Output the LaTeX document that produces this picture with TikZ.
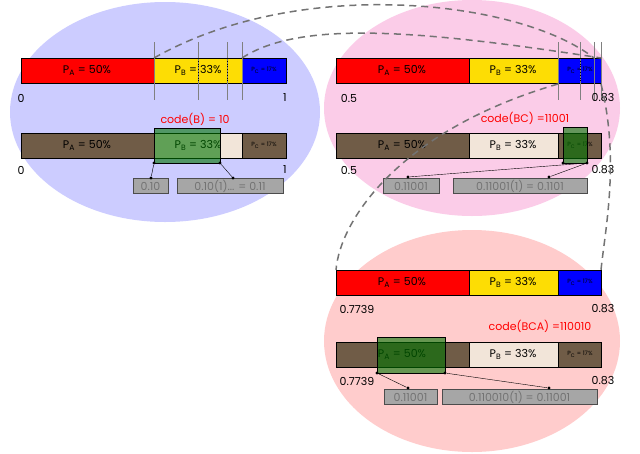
\documentclass[tikz,border=0pt]{standalone}
\usepackage{fontspec}
\setmainfont{Poppins}
\begin{document}
\begin{tikzpicture}[x=1pt,y=-1pt,
  seg/.style={draw=black,line width=0.8pt,inner sep=0pt,anchor=north west},
  lab/.style={font=\fontsize{11}{12}\selectfont},
  small/.style={font=\fontsize{6}{7}\selectfont},
  num/.style={font=\fontsize{11}{12}\selectfont},
  code/.style={font=\fontsize{11}{12}\selectfont,text=red},
  nbox/.style={draw=black!70,line width=1pt,fill=gray!70,text=black!55,inner sep=1pt,minimum height=15pt,font=\fontsize{11}{12}\selectfont},
  grn/.style={draw=black,fill=green!45!black,fill opacity=0.6,line width=0.8pt},
  conn/.style={draw=black,line width=0.4pt},
  dot/.style={circle,fill=black,inner sep=1.2pt},
  link/.style={dashed,line width=1.5pt,draw=black!55,dash pattern=on 7pt off 5pt},
  tick/.style={draw=black!50,line width=0.6pt}]
\useasboundingbox (0,0) rectangle (640,453);
\fill[white] (0,0) rectangle (640,453);
% ellipses
\fill[blue!20] (165,112) ellipse [x radius=155,y radius=110];
\fill[magenta!20] (472,108) ellipse [x radius=148,y radius=108];
\fill[red!20] (472,341) ellipse [x radius=148,y radius=111];

% generic macro for a row
\newcommand{\barrow}[8]{% #1 y, #2 c1, #3 c2, #4 c3, #5 ta, #6 tb, #7 tc
  \fill[#2] (336,#1) rectangle (469,#1+25);}

% ----- panel 1 -----
\foreach \yy/\ca/\cb/\cc/\tc/\nm in {58/red/yellow!80!orange/blue/black/t1,133/brown!40!black!80/brown!20!white/brown!40!black!80/black/b1}{
  \path[fill=\ca,draw=black,line width=0.8pt] (21,\yy) rectangle (154,\yy+25);
  \path[fill=\cb,draw=black,line width=0.8pt] (154,\yy) rectangle (242,\yy+25);
  \path[fill=\cc,draw=black,line width=0.8pt] (242,\yy) rectangle (286,\yy+25);
  \node[lab] at (87,\yy+12.5) {P\textsubscript{A} = 50\%};
  \node[lab] at (198,\yy+12.5) {P\textsubscript{B} = 33\%};
  \node[small] at (264,\yy+12.5) {P\textsubscript{C} = 17\%};
}
\foreach \xx in {154,198,227,242} \draw[tick] (\xx,42) -- (\xx,100);
\draw[dotted,thick] (198,58) -- (198,83) (227,58) -- (227,83);
\node[num] at (21,98) {0};
\node[num] at (285,98) {1};
\node[num] at (21,170) {0};
\node[num] at (285,170) {1};
\node[code] at (195,119) {code(B) = 10};
\draw[grn] (154,128) rectangle (220,163);
\node[nbox,minimum width=35pt] (n1) at (150.5,186) {0.10};
\node[nbox,minimum width=106pt] (n2) at (230,186) {0.10(1)... = 0.11};
\node[dot] (d1) at (154,163) {}; \node[dot] (d2) at (220,163) {};
\node[dot] (e1) at (151,178) {}; \node[dot] (e2) at (233,178) {};
\draw[conn] (d1) -- (e1) (d2) -- (e2);

% ----- panel 2 and 3 -----
\foreach \yy in {58,270}{
  \path[fill=red,draw=black,line width=0.8pt] (336,\yy) rectangle (469,\yy+25);
  \path[fill=yellow!80!orange,draw=black,line width=0.8pt] (469,\yy) rectangle (558,\yy+25);
  \path[fill=blue,draw=black,line width=0.8pt] (558,\yy) rectangle (601,\yy+25);
}
\foreach \yy in {133,342}{
  \path[fill=brown!40!black!80,draw=black,line width=0.8pt] (336,\yy) rectangle (469,\yy+25);
  \path[fill=brown!20!white,draw=black,line width=0.8pt] (469,\yy) rectangle (558,\yy+25);
  \path[fill=brown!40!black!80,draw=black,line width=0.8pt] (558,\yy) rectangle (601,\yy+25);
}
\foreach \yy in {58,133,270,342}{
  \node[lab] at (402,\yy+12.5) {P\textsubscript{A} = 50\%};
  \node[lab] at (513,\yy+12.5) {P\textsubscript{B} = 33\%};
  \node[small] at (580,\yy+12.5) {P\textsubscript{C} = 17\%};
}
\foreach \xx in {558,580,594,601} \draw[tick] (\xx,42) -- (\xx,100);
\draw[dotted,thick] (580,58) -- (580,83);
\node[num] at (349,98) {0.5};
\node[num] at (603,98) {0.83};
\node[num] at (349,170) {0.5};
\node[num] at (603,170) {0.83};
\node[code] at (525,118) {code(BC) =11001};
\draw[grn] (563,127) rectangle (587,163);
\node[nbox,minimum width=56pt] (m1) at (411,186) {0.11001};
\node[nbox,minimum width=134pt] (m2) at (520,186) {0.11001(1) = 0.1101};
\node[dot] (f1) at (563,163) {}; \node[dot] (f2) at (587,163) {};
\node[dot] (g1) at (408,177) {}; \node[dot] (g2) at (549,177) {};
\draw[conn] (f2) -- (g1) (f2) -- (g2);

\node[num] at (357,309) {0.7739};
\node[num] at (603,309) {0.83};
\node[num] at (357,381) {0.7739};
\node[num] at (603,381) {0.83};
\node[code] at (540,326) {code(BCA) =110010};
\draw[grn] (377,337) rectangle (445,373);
\node[nbox,minimum width=53pt] (k1) at (410.5,397) {0.11001};
\node[nbox,minimum width=155pt] (k2) at (519.5,397) {0.110010(1) = 0.11001};
\node[dot] (h1) at (377,373) {}; \node[dot] (h2) at (445,373) {};
\node[dot] (i1) at (408,388) {}; \node[dot] (i2) at (549,388) {};
\draw[conn] (h1) -- (i1) (h2) -- (i2);

% dashed links
\coordinate (a1) at (154,58); \coordinate (a2) at (594,58);
\coordinate (b1) at (242,58); \coordinate (b2) at (601,58);
\coordinate (c1) at (558,84); \coordinate (c2) at (336,270);
\coordinate (c3) at (601,84); \coordinate (c4) at (601,270);
\draw[link] (a1) .. controls (300,-25) and (520,0) .. (a2);
\draw[link] (b1) .. controls (300,20) and (420,30) .. (b2);
\draw[link] (c1) .. controls (400,130) and (340,220) .. (c2);
\draw[link] (c3) .. controls (620,160) and (605,230) .. (c4);
\end{tikzpicture}
\end{document}
